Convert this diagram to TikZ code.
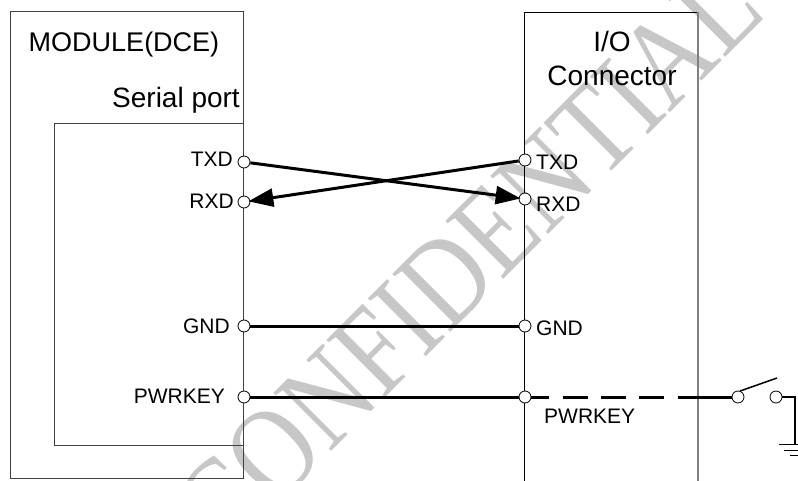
\documentclass[tikz,border=0pt]{standalone}
\usepackage{fontspec}
\setmainfont{Liberation Sans}
\newfontfamily\markfont{Liberation Serif}
\usetikzlibrary{arrows.meta}
\tikzset{
  pin/.style={circle,draw,fill=white,inner sep=0pt,minimum size=12pt,line width=0.8pt},
  biglabel/.style={inner sep=0pt,anchor=base,font=\fontsize{28}{30}\selectfont},
  siglabel/.style={inner sep=0pt,font=\fontsize{21}{24}\selectfont},
  wire/.style={line width=3pt},
  sigarrow/.style={wire,shorten >=-2pt,-{Triangle[length=25pt,width=18pt]}},
  boxline/.style={line width=0.9pt,draw=black!75}
}
\begin{document}
\begin{tikzpicture}[x=1pt,y=-1pt]
\useasboundingbox (0,0) rectangle (798,481);
\begin{scope}
\clip (0,0) rectangle (798,481);
\node (mark) at (497.6,285.4) [rotate=45,anchor=base,text=black!22,inner sep=0pt,font=\markfont\fontsize{125}{130}\selectfont] {\scalebox{0.836}[1]{CONFIDENTIAL}};
\end{scope}

% boxes
\draw[boxline] (10,11) rectangle (243,478);
\draw[boxline] (54,123) rectangle (243,445);
\draw[line width=0.9pt] (524,481) -- (524,12) -- (698,12);
\draw[line width=1.2pt,draw=black!50] (698,12) -- (698,481);

\node (module) [biglabel,font=\fontsize{27}{30}\selectfont] at (124,52) {MODULE(DCE)};
\node (serial) [biglabel,anchor=base east] at (240,108) {Serial port};
\node (io) [biglabel] at (612,52) {I/O};
\node (conn) [biglabel] at (612,86) {Connector};

% pins
\node[pin] (ltxd) at (244,162) {};
\node[pin] (lrxd) at (244,202) {};
\node[pin] (lgnd) at (244,326) {};
\node[pin] (lpwr) at (244,397) {};
\node[pin] (rtxd) at (525,160) {};
\node[pin] (rrxd) at (525,199) {};
\node[pin] (rgnd) at (525,326) {};
\node[pin] (rpwr) at (525,397) {};
\node[pin] (swa) at (738,397) {};
\node[pin] (swb) at (776,397) {};

\node[siglabel,anchor=base east] (ltxdl) at (233,167) {TXD};
\node[siglabel,anchor=base east] (lrxdl) at (234,209) {RXD};
\node[siglabel,anchor=base east] (lgndl) at (230,333) {GND};
\node[siglabel,anchor=base east] (lpwrl) at (225,403) {PWRKEY};
\node[siglabel,anchor=base west] (rtxdl) at (536,170) {TXD};
\node[siglabel,anchor=base west] (rrxdl) at (536,212) {RXD};
\node[siglabel,anchor=base west] (rgndl) at (536,335) {GND};
\node[siglabel,anchor=base west] (rpwrl) at (544,423) {PWRKEY};

% signals
\draw[sigarrow] (ltxd) -- (rrxd);
\draw[sigarrow] (rtxd) -- (lrxd);
\draw[wire] (lgnd) -- (rgnd);
\draw[wire] (lpwr) -- (rpwr);
\coordinate (dashend) at (698,397);
\draw[wire,dash pattern=on 25pt off 13.3pt,dash phase=7pt] (rpwr) -- (dashend);
\draw[wire] (dashend) -- (swa);

% switch
\coordinate (swtip) at (777,378);
\coordinate (gndtop) at (795,444);
\draw[line width=1.5pt] (swa.70) -- (swtip);
\draw[line width=1.5pt] (swb) -| (gndtop);
\draw[line width=0.9pt] (779,444) -- (811,444) (784,450) -- (806,450) (790,455) -- (800,455);
\end{tikzpicture}
\end{document}
